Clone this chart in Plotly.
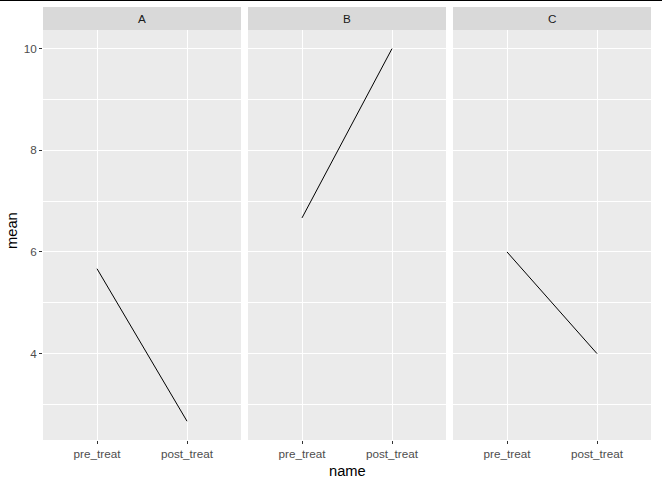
import plotly.graph_objects as go

groups = ["A", "B", "C"]
names = ["pre_treat", "post_treat"]
means = {
    "A": [5.67, 2.67],
    "B": [6.67, 10.0],
    "C": [6.0, 4.0],
}
y_ticks = [4, 6, 8, 10]

W, H = 662, 485
panels_px = [(43, 241), (248, 446), (453, 651)]
top_px, bottom_px = 30, 440
strip_top_px = 7

def fx(px):
    return px / W

def fy(py):
    return (H - py) / H

fig = go.Figure()
layout = {}
shapes = []
annotations = []

for i, g in enumerate(groups):
    ax = "" if i == 0 else str(i + 1)
    fig.add_trace(go.Scatter(
        x=names, y=means[g], mode="lines",
        line=dict(color="black", width=1),
        xaxis="x" + ax, yaxis="y" + ax, showlegend=False, hoverinfo="skip",
    ))
    x0, x1 = panels_px[i]
    layout["xaxis" + ax] = dict(
        domain=[fx(x0), fx(x1)], anchor="y" + ax,
        type="category", categoryorder="array", categoryarray=names,
        range=[-0.6, 1.6], showgrid=True, gridcolor="white", gridwidth=1,
        zeroline=False, showline=False,
        ticks="outside", ticklen=3, tickwidth=1, tickcolor="#333333",
        tickfont=dict(family="Liberation Sans, Arial", size=11.7, color="#4D4D4D"),
        fixedrange=True,
    )
    layout["yaxis" + ax] = dict(
        domain=[fy(bottom_px), fy(top_px)], anchor="x" + ax,
        range=[2.3, 10.367], tickmode="array", tickvals=y_ticks,
        showticklabels=(i == 0),
        showgrid=True, gridcolor="white", gridwidth=1,
        minor=dict(tickvals=[3, 5, 7, 9], showgrid=True, gridcolor="white", gridwidth=0.5, ticks=""),
        zeroline=False, showline=False,
        ticks="outside" if i == 0 else "", ticklen=3, tickwidth=1, tickcolor="#333333",
        tickfont=dict(family="Liberation Sans, Arial", size=11.7, color="#4D4D4D"),
        fixedrange=True,
    )
    # panel background
    shapes.append(dict(type="rect", xref="paper", yref="paper",
                       x0=fx(x0), x1=fx(x1), y0=fy(bottom_px), y1=fy(top_px),
                       fillcolor="#EBEBEB", line=dict(width=0), layer="below"))
    # strip
    shapes.append(dict(type="rect", xref="paper", yref="paper",
                       x0=fx(x0), x1=fx(x1), y0=fy(top_px), y1=fy(strip_top_px),
                       fillcolor="#D9D9D9", line=dict(width=0), layer="below"))
    annotations.append(dict(text=g, xref="paper", yref="paper",
                            x=fx((x0 + x1) / 2), y=fy((top_px + strip_top_px) / 2),
                            xanchor="center", yanchor="middle", showarrow=False,
                            font=dict(family="Liberation Sans, Arial", size=11.7, color="#1A1A1A")))

annotations.append(dict(text="name", xref="paper", yref="paper",
                        x=fx(347), y=fy(471), xanchor="center", yanchor="middle",
                        showarrow=False,
                        font=dict(family="Liberation Sans, Arial", size=14.7, color="black")))
annotations.append(dict(text="mean", xref="paper", yref="paper",
                        x=fx(12), y=fy(231), xanchor="center", yanchor="middle",
                        showarrow=False, textangle=-90,
                        font=dict(family="Liberation Sans, Arial", size=14.7, color="black")))

shapes.append(dict(type="line", xref="paper", yref="paper",
                   x0=0, x1=1, y0=fy(0.5), y1=fy(0.5),
                   line=dict(color="black", width=1)))

fig.update_layout(
    width=W, height=H, margin=dict(l=0, r=0, t=0, b=0),
    paper_bgcolor="white", plot_bgcolor="rgba(0,0,0,0)",
    shapes=shapes, annotations=annotations, **layout,
)

fig.write_html("out.html", config={"displayModeBar": False})
